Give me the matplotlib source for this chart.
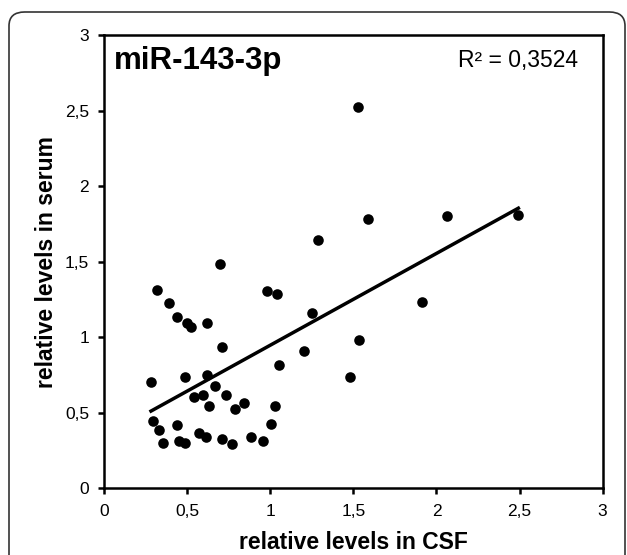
import numpy as np
import matplotlib
matplotlib.use("Agg")
import matplotlib.pyplot as plt
from matplotlib.patches import FancyBboxPatch
from matplotlib.ticker import FuncFormatter

plt.rcParams['font.family'] = ['Liberation Sans', 'DejaVu Sans']

# relative levels
csf = [0.697, 0.319, 0.391, 0.440, 0.500, 0.520, 0.620, 0.982, 1.038, 0.707,
       1.054, 0.281, 0.486, 0.620, 0.667, 0.542, 0.596, 0.733, 0.632, 0.787,
       0.841, 1.028, 0.295, 0.328, 0.440, 0.355, 0.452, 0.486, 0.572, 0.612,
       0.707, 0.771, 0.882, 0.954, 1.002, 1.526, 1.590, 2.062, 2.493, 1.287,
       1.249, 1.913, 1.534, 1.203, 1.480]
serum = [1.485, 1.312, 1.224, 1.132, 1.096, 1.069, 1.092, 1.304, 1.286, 0.937,
         0.816, 0.705, 0.739, 0.748, 0.677, 0.606, 0.615, 0.615, 0.545, 0.523,
         0.567, 0.545, 0.447, 0.386, 0.417, 0.302, 0.315, 0.302, 0.368, 0.341,
         0.328, 0.293, 0.341, 0.311, 0.426, 2.525, 1.780, 1.802, 1.809, 1.643,
         1.162, 1.231, 0.981, 0.909, 0.735]

title = "miR-143-3p"
r2_text = "R² = 0,3524"

x = np.array(csf)
y = np.array(serum)
slope, intercept = np.polyfit(x, y, 1)
xl = np.array([x.min(), x.max()])

fig = plt.figure(figsize=(6.27, 5.55), dpi=100)
ax = fig.add_axes([0.1664, 0.1202, 0.7946, 0.8168])

ax.scatter(x, y, s=58, color='black', zorder=3, linewidths=0)
ax.plot(xl, slope * xl + intercept, color='black', lw=2.5)

ax.set_xlim(0, 3)
ax.set_ylim(0, 3)
ticks = [0, 0.5, 1, 1.5, 2, 2.5, 3]
ax.set_xticks(ticks)
ax.set_yticks(ticks)
fmt = FuncFormatter(lambda v, p: ('%g' % v).replace('.', ','))
ax.xaxis.set_major_formatter(fmt)
ax.yaxis.set_major_formatter(fmt)
ax.tick_params(labelsize=12.5, width=1.8, length=4, pad=7)

for s in ax.spines.values():
    s.set_linewidth(1.8)

ax.set_xlabel("relative levels in CSF", fontsize=16.5, fontweight='bold', labelpad=9)
ax.set_ylabel("relative levels in serum", fontsize=16.5, fontweight='bold', labelpad=5)

ax.text(0.02, 0.975, title, transform=ax.transAxes, fontsize=22.5,
        fontweight='bold', va='top', ha='left')
ax.text(0.95, 0.968, r2_text, transform=ax.transAxes, fontsize=16.5,
        va='top', ha='right')

frame = FancyBboxPatch((9 / 627, -0.1), 616 / 627, 1.1 - 12 / 555,
                       boxstyle="round,pad=0,rounding_size=0.025",
                       transform=fig.transFigure, fill=False,
                       edgecolor='#333333', lw=1.2)
fig.patches.append(frame)

fig.savefig("out.png", dpi=100)
